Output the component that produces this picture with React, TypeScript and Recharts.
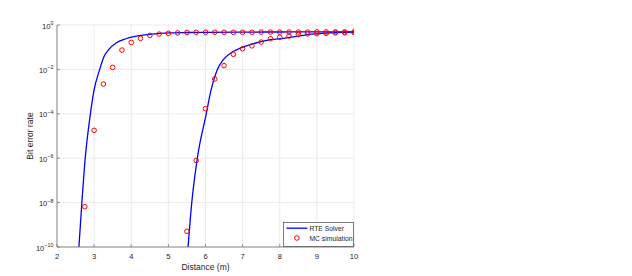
import React from 'react';
import { ComposedChart, Line, Scatter, XAxis, YAxis, CartesianGrid, Legend } from 'recharts';

// RTE solver curves
const rteNearX = [2.59, 2.67, 2.76, 2.9, 2.99, 3.15, 3.27, 3.39, 3.59, 3.86, 4.22, 4.57, 5.02, 5.5, 6, 7, 8, 9, 10];
const rteNearY = [1e-10, 1e-8, 1e-6, 1e-4, 1e-3, 1e-2, 0.039, 0.078, 0.155, 0.24, 0.33, 0.39, 0.44, 0.46, 0.47, 0.48, 0.485, 0.49, 0.49];
const rteFarX = [5.53, 5.63, 5.78, 6.02, 6.14, 6.32, 6.48, 6.68, 6.94, 7.3, 7.75, 8.1, 8.95, 10];
const rteFarY = [1e-10, 1e-8, 1e-6, 1e-4, 1e-3, 1e-2, 0.0275, 0.055, 0.091, 0.145, 0.22, 0.25, 0.4, 0.48];

// Monte Carlo simulation points
const mcNearX = [2.75, 3, 3.25, 3.5, 3.75, 4, 4.25, 4.5, 4.75, 5, 5.25, 5.5, 5.75, 6, 6.25, 6.5, 6.75, 7, 7.25, 7.5, 7.75, 8, 8.25, 8.5, 8.75, 9, 9.25, 9.5, 9.75, 10];
const mcNearY = [6.5e-9, 1.8e-5, 2.2e-3, 0.0123, 0.074, 0.165, 0.25, 0.34, 0.39, 0.42, 0.44, 0.46, 0.47, 0.47, 0.47, 0.47, 0.47, 0.47, 0.47, 0.48, 0.48, 0.48, 0.48, 0.48, 0.48, 0.49, 0.49, 0.49, 0.49, 0.49];
const mcFarX = [5.5, 5.75, 6, 6.25, 6.5, 6.75, 7, 7.25, 7.5, 7.75, 8, 8.25, 8.5, 8.75, 9, 9.25, 9.5, 9.75, 10];
const mcFarY = [5.1e-10, 7.9e-7, 1.7e-4, 3.7e-3, 0.0148, 0.048, 0.085, 0.115, 0.17, 0.24, 0.28, 0.32, 0.37, 0.4, 0.41, 0.42, 0.44, 0.45, 0.46];

const xTicks = [2, 3, 4, 5, 6, 7, 8, 9, 10];
const yTicks = [1e-10, 1e-8, 1e-6, 1e-4, 1e-2, 1];

const legendLabels = ['RTE Solver', 'MC simulation'];

const zip = (xs: number[], ys: number[]) => xs.map((x, i) => ({ x, y: ys[i] }));
const rteNear = zip(rteNearX, rteNearY);
const rteFar = zip(rteFarX, rteFarY);
const mcNear = zip(mcNearX, mcNearY);
const mcFar = zip(mcFarX, mcFarY);

const FONT = '"Liberation Sans", Arial, Helvetica, sans-serif';
const TXT = '#262626';
const AX = '#707070';

const YTickLeft = (props: any) => {
  const { x, y, payload } = props;
  const e = Math.round(Math.log10(payload.value));
  return (
    <g>
      <line x1={x} x2={x + 3} y1={y} y2={y} stroke={AX} strokeWidth={0.7} />
      <text x={x - 3.5} y={y + 3.5} textAnchor="end" fontFamily={FONT} fill={TXT} fontSize={7.6}>
        <tspan>10</tspan>
        <tspan fontSize={5.4} dy={-3.6}>{String(e).replace('-', '\u2212')}</tspan>
      </text>
    </g>
  );
};

const YTickRight = (props: any) => {
  const { x, y } = props;
  return <line x1={x - 3} x2={x} y1={y} y2={y} stroke={AX} strokeWidth={0.7} />;
};

const XTickBottom = (props: any) => {
  const { x, y, payload } = props;
  return (
    <g>
      <line x1={x} x2={x} y1={y - 3} y2={y} stroke={AX} strokeWidth={0.7} />
      <text x={x} y={y + 11.5} textAnchor="middle" fontFamily={FONT} fill={TXT} fontSize={7.6}>
        {payload.value}
      </text>
    </g>
  );
};

const XTickTop = (props: any) => {
  const { x, y } = props;
  return <line x1={x} x2={x} y1={y} y2={y + 3} stroke={AX} strokeWidth={0.7} />;
};

const Marker = (props: any) => {
  const { cx, cy } = props;
  if (cx == null || cy == null) return null;
  return <circle cx={cx} cy={cy} r={2.3} fill="none" stroke="#ff0000" strokeWidth={1} />;
};

const LegendBox = () => (
  <svg width={71} height={25} style={{ display: 'block' }}>
    <rect x={0.5} y={0.5} width={70} height={24} fill="#ffffff" stroke="#262626" strokeWidth={0.6} />
    <line x1={3.4} x2={24.4} y1={6.2} y2={6.2} stroke="#0000ff" strokeWidth={1.3} />
    <text x={26.4} y={8.6} fontFamily={FONT} fontSize={6.8} fill={TXT}>{legendLabels[0]}</text>
    <circle cx={13.9} cy={16} r={2.3} fill="none" stroke="#ff0000" strokeWidth={1} />
    <text x={26.4} y={18.5} fontFamily={FONT} fontSize={6.8} fill={TXT}>{legendLabels[1]}</text>
  </svg>
);

export default function App() {
  return (
    <div style={{ position: 'absolute', left: 0, top: 0, width: 632, height: 276, background: '#fff' }}>
      <ComposedChart width={632} height={276} margin={{ top: 25, right: 278, bottom: 0, left: 0 }}>
        <CartesianGrid stroke="#e3e3e3" strokeWidth={0.7} />
        <XAxis
          xAxisId={0}
          type="number"
          dataKey="x"
          domain={[2, 10]}
          ticks={xTicks}
          allowDataOverflow
          height={29}
          tickSize={0}
          tickMargin={0}
          tick={<XTickBottom />}
          tickLine={false}
          axisLine={{ stroke: AX, strokeWidth: 0.8 }}
          label={{ value: 'Distance (m)', position: 'insideBottom', offset: 6, fill: TXT, fontSize: 8.5, fontFamily: FONT }}
        />
        <XAxis
          xAxisId="top"
          orientation="top"
          type="number"
          dataKey="x"
          domain={[2, 10]}
          ticks={xTicks}
          allowDataOverflow
          height={0}
          tickSize={0}
          tickMargin={0}
          tick={<XTickTop />}
          tickLine={false}
          axisLine={{ stroke: AX, strokeWidth: 0.8 }}
        />
        <YAxis
          yAxisId={0}
          type="number"
          dataKey="y"
          scale="log"
          domain={[1e-10, 1]}
          ticks={yTicks}
          allowDataOverflow
          width={57}
          tickSize={0}
          tickMargin={0}
          tick={<YTickLeft />}
          tickLine={false}
          axisLine={{ stroke: AX, strokeWidth: 0.8 }}
          label={{ value: 'Bit error rate', angle: -90, position: 'insideLeft', offset: 30, fill: TXT, fontSize: 8.5, fontFamily: FONT, style: { textAnchor: 'middle' } }}
        />
        <YAxis
          yAxisId="right"
          orientation="right"
          type="number"
          dataKey="y"
          scale="log"
          domain={[1e-10, 1]}
          ticks={yTicks}
          allowDataOverflow
          width={0}
          tickSize={0}
          tickMargin={0}
          tick={<YTickRight />}
          tickLine={false}
          axisLine={{ stroke: AX, strokeWidth: 0.8 }}
        />
        <Line data={rteNear} dataKey="y" type="monotone" stroke="#0000ff" strokeWidth={1.3} dot={false} isAnimationActive={false} />
        <Line data={rteFar} dataKey="y" type="monotone" stroke="#0000ff" strokeWidth={1.3} dot={false} isAnimationActive={false} />
        <Scatter data={mcNear} dataKey="y" shape={<Marker />} isAnimationActive={false} />
        <Scatter data={mcFar} dataKey="y" shape={<Marker />} isAnimationActive={false} />
        <Legend
          layout="vertical"
          align="center"
          verticalAlign="middle"
          content={() => <LegendBox />}
          wrapperStyle={{ left: 283, top: 222, width: 71, height: 25 }}
        />
      </ComposedChart>
    </div>
  );
}
